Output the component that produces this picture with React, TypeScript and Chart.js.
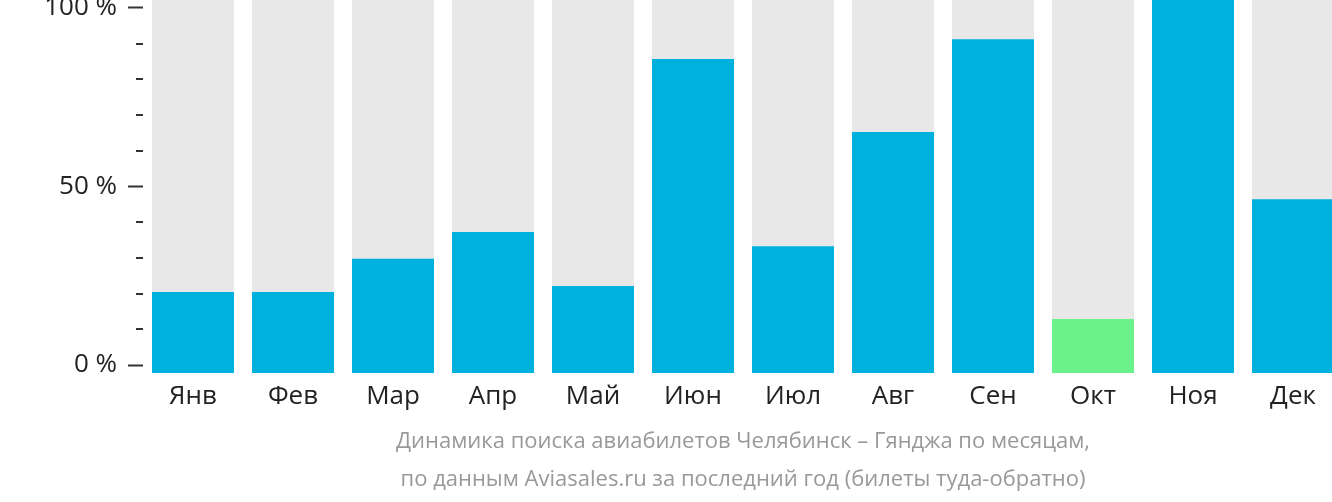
import React, { useEffect, useRef } from "react";
import { Chart, registerables } from "chart.js";

Chart.register(...registerables);

const months = ["Янв", "Фев", "Мар", "Апр", "Май", "Июн", "Июл", "Авг", "Сен", "Окт", "Ноя", "Дек"];
const searchShare = [21.7, 21.7, 30.6, 37.8, 23.3, 84.2, 34.0, 64.6, 89.5, 14.5, 100, 46.6];
const fullShare = [100, 100, 100, 100, 100, 100, 100, 100, 100, 100, 100, 100];
const highlightMonth = "Окт";
const axisTicks = [0, 10, 20, 30, 40, 50, 60, 70, 80, 90, 100];
const labeledTicks = [0, 50, 100];
const subtitle = [
  "Динамика поиска авиабилетов Челябинск – Гянджа по месяцам,",
  "по данным Aviasales.ru за последний год (билеты туда-обратно)",
];

const BLUE = "#00b1dd";
const GREEN = "#6cf28a";
const GREY = "#e8e8e8";
const TICK = "#333333";
const FONT = "'Open Sans', sans-serif";

const minorTicksPlugin = {
  id: "minorTicks",
  afterDraw(chart: any) {
    const s = chart.scales.y2;
    if (!s) return;
    const ctx = chart.ctx;
    ctx.save();
    ctx.fillStyle = TICK;
    for (const v of axisTicks) {
      if (labeledTicks.includes(v)) continue;
      const y = s.getPixelForValue(v);
      ctx.fillRect(s.right - 7, Math.round(y) - 1, 7, 2);
    }
    ctx.restore();
  },
};

const subtitlePlugin = {
  id: "subtitleBelow",
  afterDraw(chart: any) {
    const x = chart.scales.x;
    const area = chart.chartArea;
    const ctx = chart.ctx;
    ctx.save();
    ctx.fillStyle = "#999999";
    ctx.font = `22px ${FONT}`;
    ctx.textAlign = "center";
    ctx.textBaseline = "middle";
    const cx = (area.left + area.right) / 2;
    subtitle.forEach((line, i) => {
      ctx.fillText(line, cx, x.bottom + 19 + i * 38);
    });
    ctx.restore();
  },
};

export default function App() {
  const ref = useRef<HTMLCanvasElement | null>(null);
  useEffect(() => {
    document.body.style.margin = "0";
    document.body.style.overflow = "hidden";
    Chart.defaults.font.family = FONT;
    const canvas = ref.current!;
    const chart = new Chart(canvas, {
      type: "bar",
      data: {
        labels: months,
        datasets: [
          {
            data: searchShare,
            backgroundColor: months.map((m) => (m === highlightMonth ? GREEN : BLUE)),
            yAxisID: "y",
            order: 0,
            grouped: false,
            barPercentage: 0.82,
            categoryPercentage: 1,
          } as any,
          {
            data: fullShare,
            backgroundColor: GREY,
            yAxisID: "y",
            order: 1,
            grouped: false,
            barPercentage: 0.82,
            categoryPercentage: 1,
          } as any,
        ],
      },
      options: {
        responsive: false,
        animation: false,
        layout: { padding: { top: 0, left: 0, right: 0, bottom: 79 } },
        plugins: {
          legend: { display: false },
          tooltip: { enabled: false },
          title: { display: false },
        },
        scales: {
          x: {
            grid: { display: false, drawTicks: false },
            border: { display: false },
            ticks: { color: "#222222", font: { size: 26 }, padding: 8 },
            afterFit(scale: any) {
              scale.height = 50;
              scale.paddingLeft = 0;
              scale.paddingRight = 0;
            },
          },
          y: {
            display: false,
            min: 0,
            max: 100,
          },
          y2: {
            position: "left",
            min: -2.24,
            max: 102.24,
            grid: {
              drawOnChartArea: false,
              drawTicks: true,
              tickLength: 15,
              tickWidth: 2,
              tickColor: (c: any) =>
                c.tick && labeledTicks.includes(c.tick.value) ? TICK : "rgba(0,0,0,0)",
            },
            border: { display: false },
            afterBuildTicks(scale: any) {
              scale.ticks = axisTicks.map((v) => ({ value: v }));
            },
            ticks: {
              color: "#222222",
              font: { size: 26 },
              padding: 11,
              autoSkip: false,
              callback: (v: any) => (labeledTicks.includes(Number(v)) ? `${v} %` : ""),
            },
            afterFit(scale: any) {
              scale.width = 143;
              scale.paddingTop = 0;
              scale.paddingBottom = 0;
            },
          },
        },
      } as any,
      plugins: [minorTicksPlugin, subtitlePlugin],
    });
    return () => chart.destroy();
  }, []);
  return (
    <div style={{ width: 1332, height: 502, overflow: "hidden", position: "relative" }}>
      <canvas ref={ref} width={1343} height={502} style={{ width: 1343, height: 502, display: "block" }} />
    </div>
  );
}
